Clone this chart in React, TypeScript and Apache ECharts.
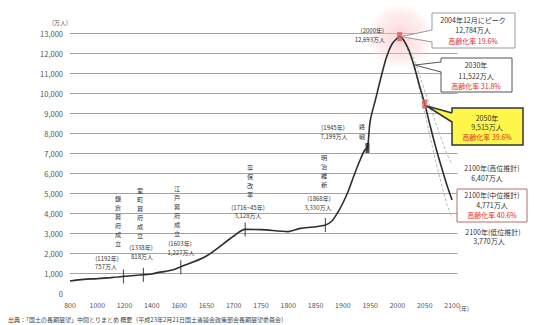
import React, { useEffect, useRef } from "react";
import * as echarts from "echarts";

const FONT = "'Noto Sans CJK JP', 'Noto Sans', sans-serif";

// x-axis tick years (equally spaced on the chart)
const xTickYears = [800, 1000, 1200, 1400, 1600, 1650, 1700, 1750, 1800, 1850, 1900, 1950, 2000, 2050, 2100];

// population curve (万人)
const popYears = [800, 900, 1000, 1100, 1150, 1192, 1250, 1338, 1400, 1450, 1500, 1550, 1600, 1650, 1700, 1721, 1750, 1800, 1822, 1846, 1868, 1880, 1890, 1900, 1910, 1920, 1930, 1940, 1945, 1950, 1960, 1970, 1980, 1990, 2000, 2004, 2010, 2020, 2030, 2040, 2050, 2060, 2070, 2080, 2090, 2100];
const popValues = [600, 680, 720, 770, 800, 830, 860, 910, 950, 1030, 1080, 1150, 1280, 1850, 2850, 3180, 3170, 3070, 3230, 3300, 3400, 3600, 4000, 4500, 5100, 5850, 6550, 7150, 7250, 8600, 9700, 10800, 11800, 12450, 12750, 12820, 12700, 12200, 11400, 10400, 9450, 8350, 7300, 6350, 5450, 4650];

// projections
const highYears = [2010, 2030, 2050, 2070, 2090, 2100];
const highValues = [12700, 11700, 10100, 8500, 7000, 6407];
const lowYears = [2010, 2030, 2050, 2070, 2090, 2100];
const lowValues = [12700, 11300, 9000, 6600, 4500, 3770];

// event markers on the curve
const eventYears = [1192, 1338, 1603, 1721, 1868];
const eventValues = [830, 910, 1290, 3180, 3400];
const warYear = 1945;
const warValue = 7250;

const peakYear = 2004;
const peakValue = 12820;
const y2030 = 2030;
const v2030 = 11400;
const y2050 = 2050;
const v2050 = 9450;

function yearToPos(y: number): number {
  for (let i = 0; i < xTickYears.length - 1; i++) {
    const a = xTickYears[i];
    const b = xTickYears[i + 1];
    if (y <= b) return i + (y - a) / (b - a);
  }
  return xTickYears.length - 1;
}

function fmtNum(v: number): string {
  if (v === 0) return "0";
  const s = String(v);
  return s.slice(0, s.length - 3) + "," + s.slice(s.length - 3);
}

function txt(x: number, y: number, text: string, o: any = {}) {
  return {
    type: "text",
    x,
    y,
    z: 100,
    style: {
      text,
      fill: o.fill || "#333",
      fontSize: o.size || 6,
      fontFamily: FONT,
      align: o.align || "center",
      verticalAlign: o.va || "middle",
      lineHeight: o.lh,
    },
  };
}

// vertical text: one element per character
function vtxt(x: number, top: number, text: string, size = 6.2, step = 9) {
  return text.split("").map((ch, i) => txt(x, top + i * step + step / 2, ch, { size, lh: size, va: "middle", fill: "#333" }));
}

export default function App() {
  const ref = useRef<HTMLDivElement>(null);
  useEffect(() => {
    const chart = echarts.init(ref.current!, null, { renderer: "svg" });
    const splitColors = ["rgba(0,0,0,0)"];
    for (let i = 0; i < 13; i++) splitColors.push("#a3a3a3");

    const option: any = {
      animation: false,
      textStyle: { fontFamily: FONT },
      grid: { left: 70, right: 78.5, top: 33, bottom: 32 },
      xAxis: {
        type: "value",
        min: 0,
        max: 14.2,
        interval: 1,
        axisLine: { show: false },
        axisTick: { show: false },
        splitLine: { show: false },
        axisLabel: {
          color: "#555",
          fontSize: 7,
          margin: 8,
          formatter: (v: number) => (Number.isInteger(v) && xTickYears[v] !== undefined ? String(xTickYears[v]) : ""),
        },
      },
      yAxis: {
        type: "value",
        min: 0,
        max: 13000,
        interval: 1000,
        axisLine: { show: false },
        axisTick: { show: false },
        axisLabel: { color: "#555", fontSize: 7.5, margin: 7, formatter: (v: number) => fmtNum(v) },
        splitLine: { show: true, lineStyle: { color: splitColors, width: 1 } },
      },
      series: [
        {
          type: "line",
          data: highYears.map((y, i) => [yearToPos(y), highValues[i]]),
          showSymbol: false,
          smooth: 0.3,
          lineStyle: { color: "#a9bfae", width: 1, type: [3, 2] },
          z: 2,
        },
        {
          type: "line",
          data: lowYears.map((y, i) => [yearToPos(y), lowValues[i]]),
          showSymbol: false,
          smooth: 0.3,
          lineStyle: { color: "#a9bfae", width: 1, type: [3, 2] },
          z: 2,
        },
        {
          type: "line",
          data: popYears.map((y, i) => [yearToPos(y), popValues[i]]),
          showSymbol: false,
          smooth: 0.3,
          lineStyle: { color: "#2e2e2e", width: 1.6 },
          z: 3,
        },
        {
          type: "scatter",
          data: eventYears.map((y, i) => [yearToPos(y), eventValues[i]]),
          symbol: "rect",
          symbolSize: [1.2, 14],
          itemStyle: { color: "#333" },
          z: 4,
        },
        {
          type: "scatter",
          data: [[yearToPos(warYear), warValue]],
          symbol: "rect",
          symbolSize: [4, 10],
          itemStyle: { color: "#222" },
          z: 4,
        },
        {
          type: "scatter",
          data: [
            [yearToPos(peakYear), peakValue],
            [yearToPos(y2050), v2050],
          ],
          symbol: "rect",
          symbolSize: [5, 9],
          itemStyle: { color: "#e05a5a" },
          z: 5,
        },
      ],
    };
    chart.setOption(option);

    const px = (y: number, v: number) => chart.convertToPixel({ gridIndex: 0 }, [yearToPos(y), v]) as number[];
    const pk = px(peakYear, peakValue);
    const p30 = px(y2030, v2030);
    const p50 = px(y2050, v2050);

    const callout = (bx: number, by: number, bw: number, bh: number, y1: number, y2: number, tip: number[], fill: string, stroke: string, lw: number) => [
      { type: "rect", z: 90, shape: { x: bx, y: by, width: bw, height: bh }, style: { fill, stroke, lineWidth: lw } },
      { type: "polygon", z: 91, shape: { points: [[bx + 1.5, y1], tip, [bx + 1.5, y2]] }, style: { fill, stroke: "none" } },
      { type: "polyline", z: 92, shape: { points: [[bx, y1], tip, [bx, y2]] }, style: { fill: "none", stroke, lineWidth: lw } },
    ];

    const graphic: any[] = [
      {
        type: "circle",
        z: 1,
        shape: { cx: pk[0], cy: pk[1], r: 34 },
        style: {
          fill: new echarts.graphic.RadialGradient(0.5, 0.5, 0.5, [
            { offset: 0, color: "rgba(246,180,180,0.55)" },
            { offset: 0.7, color: "rgba(250,205,205,0.35)" },
            { offset: 1, color: "rgba(255,230,230,0)" },
          ]),
        },
      },
      // unit labels
      txt(60, 22, "(万人)", { size: 6, fill: "#555" }),
      txt(464, 308, "(年)", { size: 6, fill: "#555" }),
      // source
      txt(8, 319, "出典：「国土の長期展望」中間とりまとめ 概要（平成23年2月21日国土審議会政策部会長期展望委員会）", { size: 6, align: "left", fill: "#444" }),
      // historical events
      ...vtxt(118, 194, "鎌倉幕府成立"),
      txt(107, 258, "(1192年)"),
      txt(106, 266, "757万人"),
      ...vtxt(140, 186, "室町幕府成立"),
      txt(141, 247, "(1338年)"),
      txt(142, 256, "818万人"),
      ...vtxt(177, 184, "江戸幕府成立"),
      txt(180, 243, "(1603年)"),
      txt(181, 252, "1,227万人"),
      ...vtxt(250, 163, "享保改革"),
      txt(248, 207, "(1716~45年)"),
      txt(248, 215, "3,128万人"),
      ...vtxt(324, 153, "明治維新"),
      txt(319, 198, "(1868年)"),
      txt(318, 207, "3,330万人"),
      txt(333, 127, "(1945年)"),
      txt(334, 136, "7,199万人"),
      ...vtxt(362, 121, "終戦", 6.2, 10),
      txt(384, 30, "(2000年)", { align: "right" }),
      txt(385, 39, "12,693万人", { align: "right" }),
      // box 1: peak
      ...callout(432, 13, 83, 35, 30, 42, [pk[0] + 2, pk[1]], "#fff", "#9a9a9a", 1),
      txt(473, 20, "2004年12月にピーク", { size: 7 }),
      txt(473, 30, "12,784万人", { size: 7 }),
      txt(473, 41, "高齢化率 19.6%", { size: 7, fill: "#e02828" }),
      // box 2: 2030
      ...callout(441, 58, 71, 34, 62, 72, [p30[0] + 1, p30[1]], "#fff", "#555", 1),
      txt(476, 65, "2030年", { size: 7 }),
      txt(476, 76, "11,522万人", { size: 7 }),
      txt(476, 86, "高齢化率 31.8%", { size: 7, fill: "#e02828" }),
      // box 3: 2050
      ...callout(452, 108, 71, 37, 113, 122, [p50[0] + 2, p50[1] + 2], "#fff64a", "#333", 1.5),
      txt(487, 118, "2050年", { size: 7 }),
      txt(487, 127, "9,515万人", { size: 7 }),
      txt(487, 137, "高齢化率 39.6%", { size: 7, fill: "#e02828" }),
      // 2100 high
      txt(492, 168, "2100年(高位推計)", { size: 7 }),
      txt(487, 178, "6,407万人", { size: 7 }),
      // box 5: 2100 middle
      { type: "rect", z: 90, shape: { x: 457, y: 189, width: 70, height: 33 }, style: { fill: "#fff", stroke: "#b86a6a", lineWidth: 1 } },
      txt(492, 195, "2100年(中位推計)", { size: 7 }),
      txt(492, 205, "4,771万人", { size: 7 }),
      txt(492, 215, "高齢化率 40.6%", { size: 7, fill: "#e02828" }),
      // 2100 low
      txt(493, 232, "2100年(低位推計)", { size: 7 }),
      txt(489, 241, "3,770万人", { size: 7 }),
    ];
    chart.setOption({ graphic });

    return () => chart.dispose();
  }, []);
  return <div ref={ref} style={{ position: "fixed", left: 0, top: 0, width: 536, height: 325, background: "#fff" }} />;
}
